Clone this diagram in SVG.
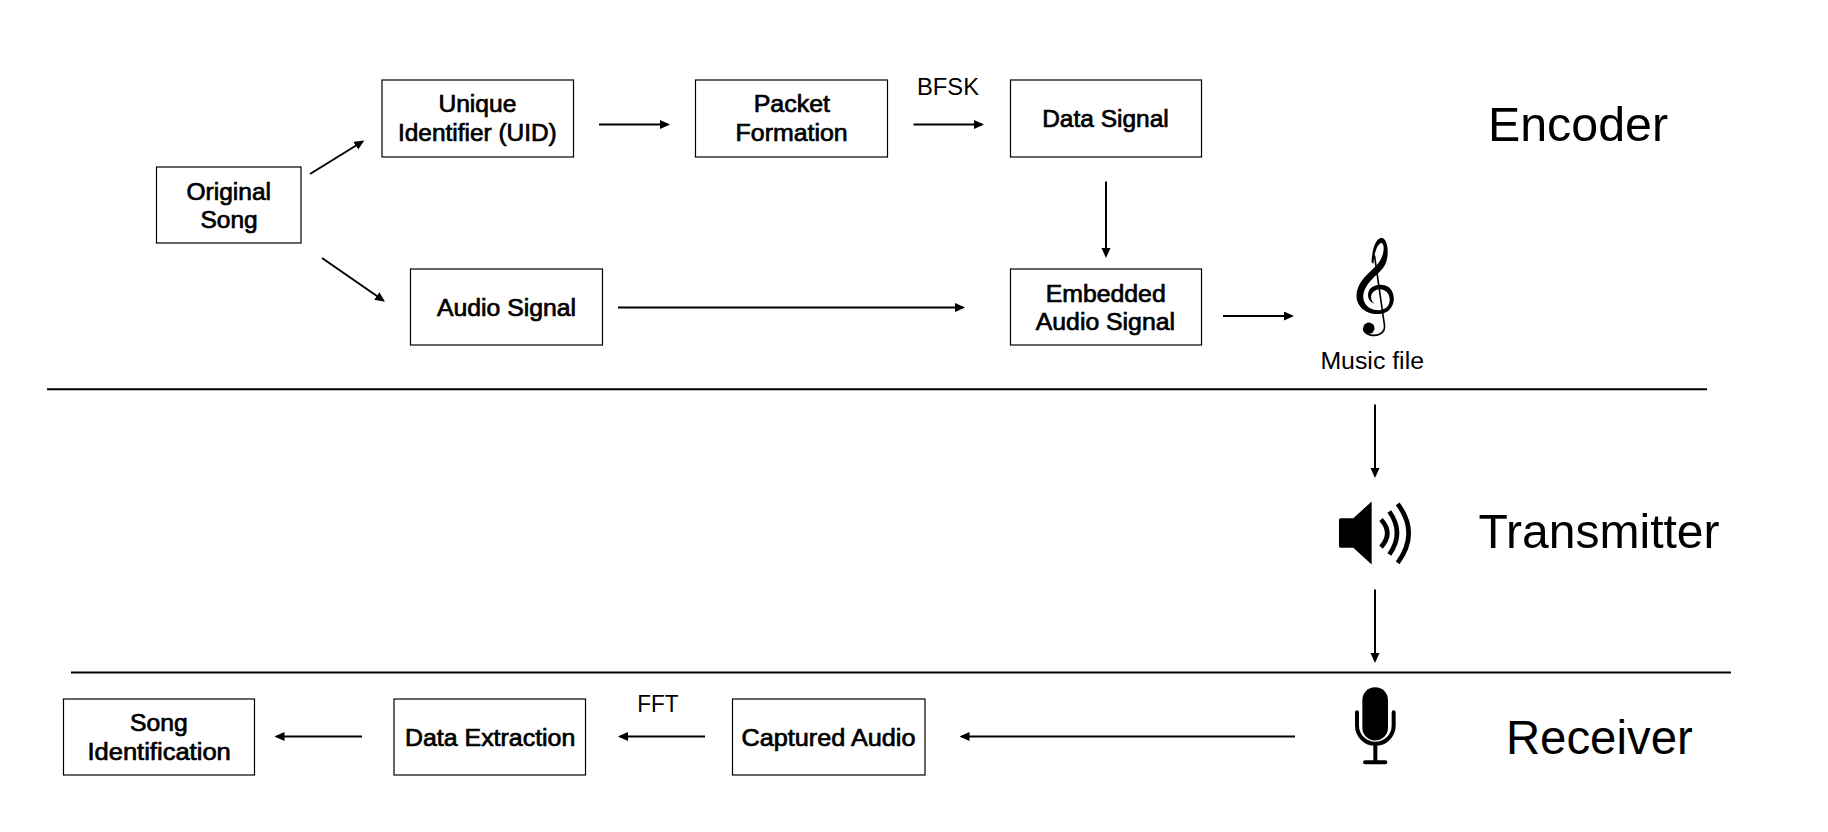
<svg xmlns="http://www.w3.org/2000/svg" width="1828" height="832" viewBox="0 0 1828 832">
<style>
text{font-family:"Liberation Sans",Arial,sans-serif;fill:#000;text-anchor:start}
.b{font-size:23.500px;stroke:#000;stroke-width:.7px}
.l{font-size:23.500px}
.h{font-size:48px}
.box{fill:#fff;stroke:#000;stroke-width:1.2}
.c{fill:none;stroke:#000;stroke-width:2;marker-end:url(#a)}
.d{fill:none;stroke:#000;stroke-width:2}
</style>
<defs><marker id="a" markerUnits="userSpaceOnUse" markerWidth="12" markerHeight="10" refX="8" refY="4.500" orient="auto"><path d="M0,0L10,4.500L0,9z" fill="#000"/></marker></defs>
<rect width="1828" height="832" fill="#fff"/>
<g id="connectors">
<path class="c" d="M310,174L362.600,141.500"/>
<path class="c" d="M322,258L383.400,300.500"/>
<path class="c" d="M599,124.500H668"/>
<path class="c" d="M913.500,124.500H982"/>
<path class="c" d="M1106,181.500V256"/>
<path class="c" d="M618,307.500H963"/>
<path class="c" d="M1223,316H1292"/>
<path class="c" d="M1375,404.500V476"/>
<path class="c" d="M1375,589.500V661"/>
<path class="c" d="M1295,736.500H961.500"/>
<path class="c" d="M705,736.500H620"/>
<path class="c" d="M362,736.500H276.500"/>
<path class="d" d="M47,389.200H1707"/>
<path class="d" d="M71,672.500H1731"/>
</g>
<g id="original-song"><rect class="box" x="156.500" y="167" width="144.500" height="76"/><text class="b" x="186.500" y="199.500" textLength="84.500" lengthAdjust="spacingAndGlyphs">Original</text><text class="b" x="200.500" y="228" textLength="57.200" lengthAdjust="spacingAndGlyphs">Song</text></g>
<g id="uid"><rect class="box" x="382" y="80" width="191.500" height="77"/><text class="b" x="438.400" y="112" textLength="78" lengthAdjust="spacingAndGlyphs">Unique</text><text class="b" x="398" y="141" textLength="158.700" lengthAdjust="spacingAndGlyphs">Identifier (UID)</text></g>
<g id="packet"><rect class="box" x="695.500" y="80" width="192" height="77"/><text class="b" x="753.700" y="112" textLength="76.300" lengthAdjust="spacingAndGlyphs">Packet</text><text class="b" x="735.600" y="141" textLength="112" lengthAdjust="spacingAndGlyphs">Formation</text></g>
<g id="data-signal"><rect class="box" x="1010.500" y="80" width="191" height="77"/><text class="b" x="1042.200" y="126.800" textLength="126.500" lengthAdjust="spacingAndGlyphs">Data Signal</text></g>
<g id="audio-signal"><rect class="box" x="410.500" y="269" width="192" height="76"/><text class="b" x="437" y="316" textLength="139" lengthAdjust="spacingAndGlyphs">Audio Signal</text></g>
<g id="embedded"><rect class="box" x="1010.500" y="269" width="191" height="76"/><text class="b" x="1045.700" y="301.500" textLength="120" lengthAdjust="spacingAndGlyphs">Embedded</text><text class="b" x="1035.800" y="330" textLength="139.200" lengthAdjust="spacingAndGlyphs">Audio Signal</text></g>
<g id="song-identification"><rect class="box" x="63.500" y="699" width="191" height="76"/><text class="b" x="130" y="731" textLength="57.700" lengthAdjust="spacingAndGlyphs">Song</text><text class="b" x="87.400" y="759.500" textLength="143.400" lengthAdjust="spacingAndGlyphs">Identification</text></g>
<g id="data-extraction"><rect class="box" x="394" y="699" width="191.500" height="76"/><text class="b" x="405" y="745.500" textLength="170.300" lengthAdjust="spacingAndGlyphs">Data Extraction</text></g>
<g id="captured-audio"><rect class="box" x="732.500" y="699" width="192.500" height="76"/><text class="b" x="741.500" y="745.500" textLength="174" lengthAdjust="spacingAndGlyphs">Captured Audio</text></g>
<g id="labels">
<text class="l" x="917" y="94.500" textLength="62" lengthAdjust="spacingAndGlyphs">BFSK</text>
<text class="l" x="637.200" y="711.500" textLength="41.300" lengthAdjust="spacingAndGlyphs">FFT</text>
<text class="l" x="1320.400" y="368.800" textLength="103.600" lengthAdjust="spacingAndGlyphs">Music file</text>
<text class="h" x="1488" y="141" textLength="180" lengthAdjust="spacingAndGlyphs">Encoder</text>
<text class="h" x="1478.400" y="548" textLength="241.200" lengthAdjust="spacingAndGlyphs">Transmitter</text>
<text class="h" x="1505.900" y="754" textLength="186.900" lengthAdjust="spacingAndGlyphs">Receiver</text>
</g>
<g id="music-file" transform="translate(1249.500,200.500) scale(.33333)">
<path d="M396,112C414,116 418,150 412,178C406,205 385,218 372,232C345,258 335,285 345,305C355,328 390,336 410,322C425,310 425,280 405,270C390,262 372,268 366,282C362,295 368,305 376,310C355,305 350,280 362,265C375,250 405,248 420,262C438,280 438,315 415,332C390,348 345,342 328,312C312,285 325,250 350,225C375,200 398,185 402,150C404,135 400,125 393,128C382,135 375,155 372,190L366,185C368,150 376,115 396,112Z"/>
<path d="M375,165L405,375C408,400 380,408 362,403C350,400 342,392 342,385" fill="none" stroke="#000" stroke-width="5"/>
<circle cx="358" cy="383" r="17"/>
</g>
<g id="speaker" transform="translate(1300,480.500) scale(.33333)">
<path d="M122,113L160,113L215,63V252L160,202L122,202Q117,202 117,197V118Q117,113 122,113Z"/>
<path d="M243,117Q281,158 243,200M268,93Q314,158 268,222M293,70Q359,158 293,247" fill="none" stroke="#000" stroke-width="14"/>
</g>
<g id="microphone" transform="translate(1300,660.500) scale(.33333)">
<rect x="187" y="80" width="77" height="160" rx="38"/>
<path d="M171,155V195A55,55 0 0 0 281,195V155M195,305H256M226,250V305" fill="none" stroke="#000" stroke-width="12" stroke-linecap="round"/>
</g>
</svg>
